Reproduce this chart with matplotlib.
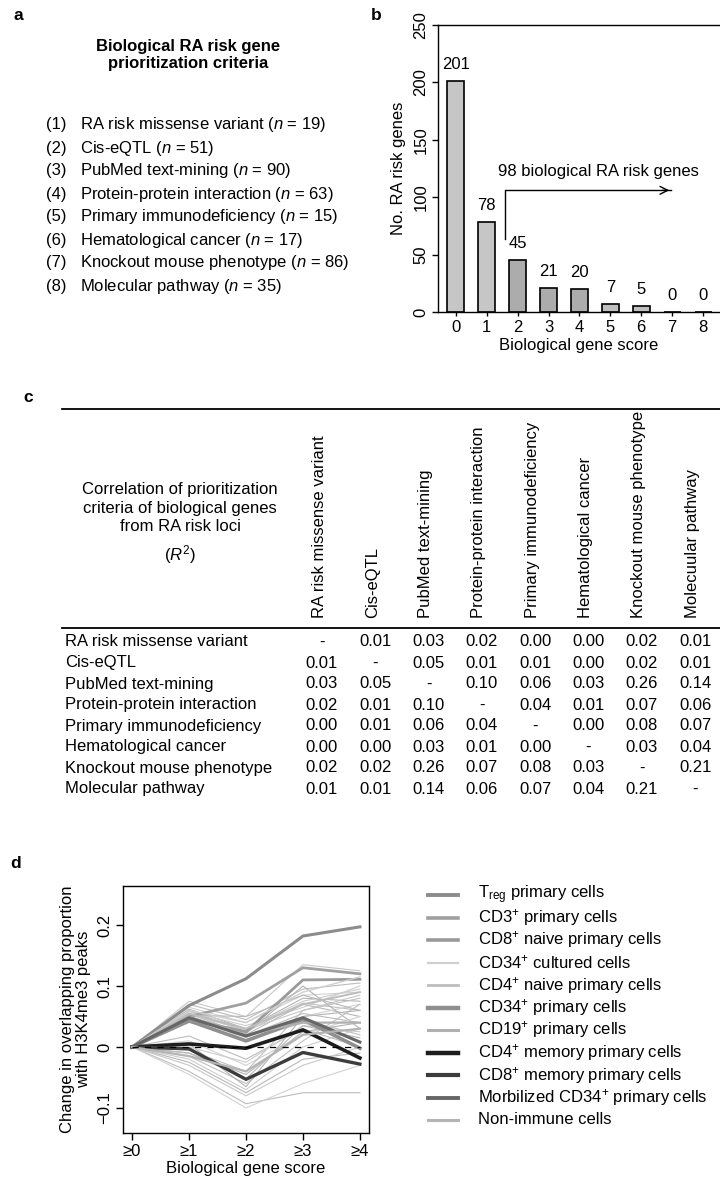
import matplotlib
matplotlib.use("Agg")
import matplotlib.pyplot as plt
from matplotlib.lines import Line2D

plt.rcParams['font.family'] = ['Liberation Sans', 'DejaVu Sans']
plt.rcParams['mathtext.fontset'] = 'custom'
plt.rcParams['mathtext.rm'] = 'Liberation Sans'
plt.rcParams['mathtext.it'] = 'Liberation Sans:italic'
plt.rcParams['mathtext.bf'] = 'Liberation Sans:bold'

# ---------------- data ----------------
criteria_title = "Biological RA risk gene\nprioritization criteria"
criteria_names = ["RA risk missense variant", "Cis-eQTL", "PubMed text-mining",
                  "Protein-protein interaction", "Primary immunodeficiency",
                  "Hematological cancer", "Knockout mouse phenotype", "Molecular pathway"]
criteria_n = [19, 51, 90, 63, 15, 17, 86, 35]

scores = [0, 1, 2, 3, 4, 5, 6, 7, 8]
gene_counts = [201, 78, 45, 21, 20, 7, 5, 0, 0]
bar_colors = ["#c6c6c6", "#c6c6c6", "#acacac", "#acacac", "#acacac",
              "#c0c0c0", "#c0c0c0", "#c6c6c6", "#c6c6c6"]
arrow_text = "98 biological RA risk genes"

col_headers = ["RA risk missense variant", "Cis-eQTL", "PubMed text-mining",
               "Protein-protein interaction", "Primary immunodeficiency",
               "Hematological cancer", "Knockout mouse phenotype", "Molecuular pathway"]
row_labels = criteria_names
r2_table = [
    ["-", "0.01", "0.03", "0.02", "0.00", "0.00", "0.02", "0.01"],
    ["0.01", "-", "0.05", "0.01", "0.01", "0.00", "0.02", "0.01"],
    ["0.03", "0.05", "-", "0.10", "0.06", "0.03", "0.26", "0.14"],
    ["0.02", "0.01", "0.10", "-", "0.04", "0.01", "0.07", "0.06"],
    ["0.00", "0.01", "0.06", "0.04", "-", "0.00", "0.08", "0.07"],
    ["0.00", "0.00", "0.03", "0.01", "0.00", "-", "0.03", "0.04"],
    ["0.02", "0.02", "0.26", "0.07", "0.08", "0.03", "-", "0.21"],
    ["0.01", "0.01", "0.14", "0.06", "0.07", "0.04", "0.21", "-"],
]

score_ticks = ["≥0", "≥1", "≥2", "≥3", "≥4"]
# highlighted cell types (legend order)
cell_types = ["T$_{\\rm reg}$ primary cells", "CD3$^{+}$ primary cells",
              "CD8$^{+}$ naive primary cells", "CD34$^{+}$ cultured cells",
              "CD4$^{+}$ naive primary cells", "CD34$^{+}$ primary cells",
              "CD19$^{+}$ primary cells", "CD4$^{+}$ memory primary cells",
              "CD8$^{+}$ memory primary cells", "Morbilized CD34$^{+}$ primary cells",
              "Non-immune cells"]
cell_colors = ["#8c8c8c", "#a0a0a0", "#9a9a9a", "#cfcfcf", "#bdbdbd", "#8f8f8f",
               "#b0b0b0", "#1e1e1e", "#3c3c3c", "#666666", "#b4b4b4"]
cell_widths = [2.2, 2.0, 2.0, 1.0, 1.4, 2.6, 1.6, 2.6, 2.4, 2.2, 1.6]
cell_values = [
    [0, 0.068, 0.112, 0.182, 0.197],
    [0, 0.050, 0.072, 0.130, 0.120],
    [0, 0.045, 0.025, 0.110, 0.111],
    [0, 0.060, 0.040, 0.090, 0.115],
    [0, 0.055, 0.030, 0.070, 0.090],
    [0, 0.043, 0.010, 0.045, -0.002],
    [0, 0.050, 0.020, 0.040, 0.040],
    [0, 0.005, -0.002, 0.028, -0.018],
    [0, -0.003, -0.053, -0.009, -0.028],
    [0, 0.048, 0.018, 0.048, 0.008],
    [0, -0.015, -0.040, 0.020, 0.030],
]
# other cell types (thin background lines)
other_values = [
    [0, 0.075, 0.050, 0.135, 0.125],
    [0, 0.070, 0.045, 0.095, 0.105],
    [0, 0.065, 0.040, 0.085, 0.090],
    [0, 0.062, 0.030, 0.080, 0.075],
    [0, 0.060, 0.025, 0.072, 0.060],
    [0, 0.058, 0.035, 0.065, 0.100],
    [0, 0.055, 0.020, 0.070, 0.050],
    [0, 0.053, 0.028, 0.060, 0.085],
    [0, 0.050, 0.018, 0.055, 0.040],
    [0, 0.048, 0.015, 0.050, 0.070],
    [0, 0.045, 0.022, 0.100, 0.030],
    [0, 0.042, 0.012, 0.045, 0.020],
    [0, 0.040, 0.030, 0.075, 0.095],
    [0, 0.052, 0.050, 0.085, 0.060],
    [0, 0.060, 0.010, 0.040, 0.010],
    [0, 0.018, -0.020, 0.030, 0.000],
    [0, 0.010, -0.030, 0.020, 0.050],
    [0, -0.010, -0.045, 0.025, 0.040],
    [0, -0.015, -0.060, 0.010, 0.070],
    [0, -0.020, -0.070, 0.000, 0.030],
    [0, -0.025, -0.075, -0.020, -0.010],
    [0, -0.030, -0.080, -0.030, 0.000],
    [0, -0.040, -0.093, -0.075, -0.075],
    [0, -0.045, -0.100, -0.060, -0.030],
    [0, 0.005, -0.065, 0.050, 0.060],
    [0, -0.005, -0.040, 0.060, 0.080],
    [0, 0.000, -0.025, 0.035, 0.025],
    [0, -0.010, -0.052, 0.035, 0.015],
]
other_colors = ["#c8c8c8", "#bcbcbc", "#d2d2d2", "#b4b4b4", "#c0c0c0", "#cccccc", "#b8b8b8"]

# ---------------- figure ----------------
W, H = 720, 1178
fig = plt.figure(figsize=(W / 100, H / 100), dpi=100)


def px_axes(l, t, r, b):
    return fig.add_axes([l / W, 1 - b / H, (r - l) / W, (b - t) / H])


# overlay for text panels
ov = fig.add_axes([0, 0, 1, 1])
ov.set_xlim(0, W)
ov.set_ylim(H, 0)
ov.axis('off')

FS = 12

# panel labels
for lab, x, y in [("a", 18, 15), ("b", 376, 15), ("c", 28, 398), ("d", 16, 863)]:
    ov.text(x, y, lab, fontsize=12.5, fontweight='bold', ha='center', va='center')

# ---- panel a ----
ov.text(188, 55, criteria_title, fontsize=FS, fontweight='bold', ha='center', va='center',
        linespacing=1.2)
for i, (name, n) in enumerate(zip(criteria_names, criteria_n)):
    y = 125 + i * 23
    ov.text(46, y, f"({i + 1})", fontsize=FS, ha='left', va='center')
    ov.text(80, y, f"{name} ($n$ = {n})", fontsize=FS, ha='left', va='center')

# ---- panel b ----
axb = px_axes(438, 25, 720, 312)
axb.bar(scores, gene_counts, width=0.55, color=bar_colors, edgecolor='black', linewidth=1.2)
for s, c in zip(scores, gene_counts):
    axb.text(s, c + 8, str(c), ha='center', va='bottom', fontsize=FS)
axb.set_xlim(-0.58, 8.55)
axb.set_ylim(0, 250)
axb.set_yticks([0, 50, 100, 150, 200, 250])
axb.set_yticklabels(["0", "50", "100", "150", "200", "250"], rotation=90, va='center')
axb.set_xticks(scores)
axb.tick_params(axis='both', labelsize=FS, direction='out', length=4, width=1, pad=3)
axb.tick_params(axis='x', length=3)
axb.spines['right'].set_visible(False)
for sp in ['left', 'top', 'bottom']:
    axb.spines[sp].set_linewidth(1.0)
axb.set_ylabel("No. RA risk genes", fontsize=FS, labelpad=5)
axb.set_xlabel("Biological gene score", fontsize=FS, labelpad=2)
axb.plot([1.6, 1.6, 6.95], [64, 106, 106], color='black', lw=1.0)
axb.annotate('', xy=(7.0, 106), xytext=(6.6, 106),
             arrowprops=dict(arrowstyle='->', lw=1.0, color='black', mutation_scale=14))
axb.text(4.6, 122, arrow_text, ha='center', va='center', fontsize=FS)

# ---- panel c ----
ov.plot([62, 720], [409, 409], color='black', lw=1.3)
ov.plot([62, 720], [628, 628], color='black', lw=1.3)
ov.text(180, 508, "Correlation of prioritization\ncriteria of biological genes\nfrom RA risk loci",
        fontsize=FS, ha='center', va='center', linespacing=1.3)
ov.text(180, 555, "($R^{2}$)", fontsize=FS, ha='center', va='center')
col_x = [322 + 53.3 * j for j in range(8)]
for j, h in enumerate(col_headers):
    ov.text(col_x[j] - 3, 618, h, rotation=90, fontsize=FS, ha='center', va='bottom')
for i, rl in enumerate(row_labels):
    y = 642 + i * 21
    ov.text(65, y, rl, fontsize=FS, ha='left', va='center')
    for j in range(8):
        ov.text(col_x[j], y, r2_table[i][j], fontsize=FS, ha='center', va='center')

# ---- panel d ----
axd = px_axes(123, 886, 369, 1133)
xs = list(range(len(score_ticks)))
for k, vals in enumerate(other_values):
    axd.plot(xs, vals, color=other_colors[k % len(other_colors)], lw=0.8, zorder=1)
for vals, c, lw in zip(cell_values, cell_colors, cell_widths):
    axd.plot(xs, vals, color=c, lw=lw, zorder=2)
axd.plot([0, 4], [0, 0], color='black', lw=0.9, ls=(0, (5, 5)), zorder=3)
axd.set_xlim(-0.16, 4.16)
axd.set_ylim(-0.141, 0.264)
axd.set_xticks(xs)
axd.set_xticklabels(score_ticks)
axd.set_yticks([-0.1, 0, 0.1, 0.2])
axd.set_yticklabels(["−0.1", "0", "0.1", "0.2"], rotation=90, va='center')
axd.tick_params(axis='both', labelsize=FS, direction='out', length=5, width=1, pad=3)
for sp in axd.spines.values():
    sp.set_linewidth(1.0)
axd.set_ylabel("Change in overlapping proportion\nwith H3K4me3 peaks", fontsize=FS, labelpad=4,
               linespacing=1.15)
axd.set_xlabel("Biological gene score", fontsize=FS, labelpad=1)

# legend
for i, (lab, c, lw) in enumerate(zip(cell_types, cell_colors, cell_widths)):
    y = 895 + i * 22.5
    ov.add_line(Line2D([428, 458], [y, y], color=c, lw=lw + 0.6))
    ov.text(478, y, lab, fontsize=FS, ha='left', va='center')

fig.savefig("out.png", dpi=100)
